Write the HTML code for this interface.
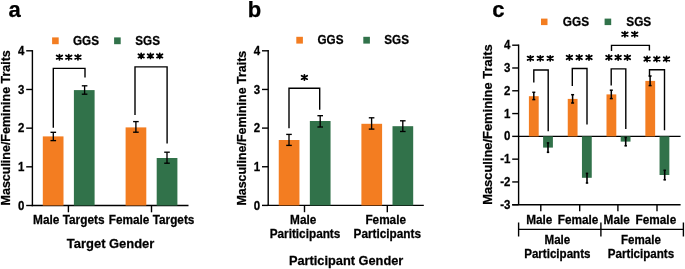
<!DOCTYPE html>
<html><head><meta charset="utf-8"><style>
html,body{margin:0;padding:0;background:#fff;width:685px;height:269px;overflow:hidden}
svg{display:block;will-change:transform}
text{font-family:"Liberation Sans",sans-serif;font-weight:bold;fill:#000;stroke:#000;stroke-width:0.25px}
</style></head><body>
<svg width="685" height="269" viewBox="0 0 685 269" shape-rendering="auto">
<rect width="685" height="269" fill="#fff"/>
<line x1="32.4" y1="50.099999999999994" x2="32.4" y2="206.2" stroke="#000" stroke-width="1.4"/>
<line x1="26.2" y1="205.5" x2="32.4" y2="205.5" stroke="#000" stroke-width="1.4"/>
<text x="0" y="0" font-size="11.5" text-anchor="end" transform="translate(24.30,209.60) scale(1,1.09)">0</text>
<line x1="26.2" y1="166.825" x2="32.4" y2="166.825" stroke="#000" stroke-width="1.4"/>
<text x="0" y="0" font-size="11.5" text-anchor="end" transform="translate(24.30,170.92) scale(1,1.09)">1</text>
<line x1="26.2" y1="128.15" x2="32.4" y2="128.15" stroke="#000" stroke-width="1.4"/>
<text x="0" y="0" font-size="11.5" text-anchor="end" transform="translate(24.30,132.25) scale(1,1.09)">2</text>
<line x1="26.2" y1="89.47500000000001" x2="32.4" y2="89.47500000000001" stroke="#000" stroke-width="1.4"/>
<text x="0" y="0" font-size="11.5" text-anchor="end" transform="translate(24.30,93.58) scale(1,1.09)">3</text>
<line x1="26.2" y1="50.80000000000001" x2="32.4" y2="50.80000000000001" stroke="#000" stroke-width="1.4"/>
<text x="0" y="0" font-size="11.5" text-anchor="end" transform="translate(24.30,54.90) scale(1,1.09)">4</text>
<line x1="31.7" y1="205.5" x2="188.5" y2="205.5" stroke="#000" stroke-width="1.4"/>
<line x1="68.4" y1="205.5" x2="68.4" y2="212.3" stroke="#000" stroke-width="1.4"/>
<line x1="151.5" y1="205.5" x2="151.5" y2="212.3" stroke="#000" stroke-width="1.4"/>
<rect x="42.80" y="136.40" width="20.70" height="69.10" fill="#F37D21"/>
<rect x="73.90" y="90.10" width="20.70" height="115.40" fill="#31724A"/>
<rect x="125.60" y="127.40" width="20.70" height="78.10" fill="#F37D21"/>
<rect x="156.70" y="158.00" width="20.70" height="47.50" fill="#31724A"/>
<line x1="53.3" y1="132.3" x2="53.3" y2="140.6" stroke="#000" stroke-width="1.35"/>
<line x1="50.5" y1="132.3" x2="56.099999999999994" y2="132.3" stroke="#000" stroke-width="1.35"/>
<line x1="50.5" y1="140.6" x2="56.099999999999994" y2="140.6" stroke="#000" stroke-width="1.35"/>
<line x1="84.6" y1="85.8" x2="84.6" y2="94.2" stroke="#000" stroke-width="1.35"/>
<line x1="81.8" y1="85.8" x2="87.39999999999999" y2="85.8" stroke="#000" stroke-width="1.35"/>
<line x1="81.8" y1="94.2" x2="87.39999999999999" y2="94.2" stroke="#000" stroke-width="1.35"/>
<line x1="135.9" y1="121.6" x2="135.9" y2="132.2" stroke="#000" stroke-width="1.35"/>
<line x1="133.1" y1="121.6" x2="138.70000000000002" y2="121.6" stroke="#000" stroke-width="1.35"/>
<line x1="133.1" y1="132.2" x2="138.70000000000002" y2="132.2" stroke="#000" stroke-width="1.35"/>
<line x1="167.0" y1="152.2" x2="167.0" y2="163.2" stroke="#000" stroke-width="1.35"/>
<line x1="164.2" y1="152.2" x2="169.8" y2="152.2" stroke="#000" stroke-width="1.35"/>
<line x1="164.2" y1="163.2" x2="169.8" y2="163.2" stroke="#000" stroke-width="1.35"/>
<polyline points="53.3,127.8 53.3,68.4 85,68.4 85,77.6" fill="none" stroke="#000" stroke-width="1.4" stroke-linejoin="miter"/>
<polyline points="135,115 135,66.9 167.1,66.9 167.1,143.4" fill="none" stroke="#000" stroke-width="1.4" stroke-linejoin="miter"/>
<path d="M59.45,54.65L59.45,59.75M56.65,55.45L62.25,58.95M62.25,55.45L56.65,58.95" stroke="#000" stroke-width="1.75" stroke-linecap="round" fill="none"/>
<path d="M68.75,54.65L68.75,59.75M65.95,55.45L71.55,58.95M71.55,55.45L65.95,58.95" stroke="#000" stroke-width="1.75" stroke-linecap="round" fill="none"/>
<path d="M77.95,54.65L77.95,59.75M75.15,55.45L80.75,58.95M80.75,55.45L75.15,58.95" stroke="#000" stroke-width="1.75" stroke-linecap="round" fill="none"/>
<path d="M141.20,53.35L141.20,58.45M138.40,54.15L144.00,57.65M144.00,54.15L138.40,57.65" stroke="#000" stroke-width="1.75" stroke-linecap="round" fill="none"/>
<path d="M150.45,53.35L150.45,58.45M147.65,54.15L153.25,57.65M153.25,54.15L147.65,57.65" stroke="#000" stroke-width="1.75" stroke-linecap="round" fill="none"/>
<path d="M159.70,53.35L159.70,58.45M156.90,54.15L162.50,57.65M162.50,54.15L156.90,57.65" stroke="#000" stroke-width="1.75" stroke-linecap="round" fill="none"/>
<rect x="52.10" y="37.40" width="6.60" height="6.80" fill="#F37D21"/>
<text x="0" y="0" font-size="11.7" text-anchor="start" transform="translate(73,44.5) scale(1,1.07)">GGS</text>
<rect x="114.10" y="37.40" width="6.60" height="6.80" fill="#31724A"/>
<text x="0" y="0" font-size="11.7" text-anchor="start" transform="translate(135.3,44.5) scale(1,1.07)">SGS</text>
<text x="0" y="0" font-size="11.85" text-anchor="middle" transform="translate(68.8,223.9) scale(1,1.05)">Male Targets</text>
<text x="0" y="0" font-size="11.8" text-anchor="middle" transform="translate(151.6,223.9) scale(1,1.05)">Female Targets</text>
<text x="0" y="0" font-size="12.95" text-anchor="middle" transform="translate(110.6,247.6) scale(1,1.05)">Target Gender</text>
<text x="0" y="0" font-size="12.48" text-anchor="middle" transform="translate(10.1,127.8) rotate(-90)">Masculine/Feminine Traits</text>
<text x="8.6" y="16.5" font-size="22" text-anchor="start" >a</text>
<line x1="268.2" y1="50.099999999999994" x2="268.2" y2="206.1" stroke="#000" stroke-width="1.4"/>
<line x1="262.0" y1="205.4" x2="268.2" y2="205.4" stroke="#000" stroke-width="1.4"/>
<text x="0" y="0" font-size="11.5" text-anchor="end" transform="translate(260.10,209.50) scale(1,1.09)">0</text>
<line x1="262.0" y1="166.75" x2="268.2" y2="166.75" stroke="#000" stroke-width="1.4"/>
<text x="0" y="0" font-size="11.5" text-anchor="end" transform="translate(260.10,170.85) scale(1,1.09)">1</text>
<line x1="262.0" y1="128.1" x2="268.2" y2="128.1" stroke="#000" stroke-width="1.4"/>
<text x="0" y="0" font-size="11.5" text-anchor="end" transform="translate(260.10,132.20) scale(1,1.09)">2</text>
<line x1="262.0" y1="89.44999999999999" x2="268.2" y2="89.44999999999999" stroke="#000" stroke-width="1.4"/>
<text x="0" y="0" font-size="11.5" text-anchor="end" transform="translate(260.10,93.55) scale(1,1.09)">3</text>
<line x1="262.0" y1="50.79999999999998" x2="268.2" y2="50.79999999999998" stroke="#000" stroke-width="1.4"/>
<text x="0" y="0" font-size="11.5" text-anchor="end" transform="translate(260.10,54.90) scale(1,1.09)">4</text>
<line x1="267.5" y1="205.4" x2="423.8" y2="205.4" stroke="#000" stroke-width="1.4"/>
<line x1="304.5" y1="205.4" x2="304.5" y2="212.20000000000002" stroke="#000" stroke-width="1.4"/>
<line x1="387.3" y1="205.4" x2="387.3" y2="212.20000000000002" stroke="#000" stroke-width="1.4"/>
<rect x="278.75" y="140.00" width="20.70" height="65.40" fill="#F37D21"/>
<rect x="309.85" y="121.00" width="20.70" height="84.40" fill="#31724A"/>
<rect x="361.40" y="123.80" width="20.70" height="81.60" fill="#F37D21"/>
<rect x="392.50" y="126.20" width="20.70" height="79.20" fill="#31724A"/>
<line x1="289.0" y1="134.4" x2="289.0" y2="145.4" stroke="#000" stroke-width="1.35"/>
<line x1="286.2" y1="134.4" x2="291.8" y2="134.4" stroke="#000" stroke-width="1.35"/>
<line x1="286.2" y1="145.4" x2="291.8" y2="145.4" stroke="#000" stroke-width="1.35"/>
<line x1="320.2" y1="115.7" x2="320.2" y2="127.0" stroke="#000" stroke-width="1.35"/>
<line x1="317.4" y1="115.7" x2="323.0" y2="115.7" stroke="#000" stroke-width="1.35"/>
<line x1="317.4" y1="127.0" x2="323.0" y2="127.0" stroke="#000" stroke-width="1.35"/>
<line x1="371.6" y1="117.8" x2="371.6" y2="129.1" stroke="#000" stroke-width="1.35"/>
<line x1="368.8" y1="117.8" x2="374.40000000000003" y2="117.8" stroke="#000" stroke-width="1.35"/>
<line x1="368.8" y1="129.1" x2="374.40000000000003" y2="129.1" stroke="#000" stroke-width="1.35"/>
<line x1="402.8" y1="120.8" x2="402.8" y2="131.5" stroke="#000" stroke-width="1.35"/>
<line x1="400.0" y1="120.8" x2="405.6" y2="120.8" stroke="#000" stroke-width="1.35"/>
<line x1="400.0" y1="131.5" x2="405.6" y2="131.5" stroke="#000" stroke-width="1.35"/>
<polyline points="289,128.3 289,88.3 319.7,88.3 319.7,109.7" fill="none" stroke="#000" stroke-width="1.4" stroke-linejoin="miter"/>
<path d="M304.40,74.90L304.40,80.00M301.60,75.70L307.20,79.20M307.20,75.70L301.60,79.20" stroke="#000" stroke-width="1.75" stroke-linecap="round" fill="none"/>
<rect x="296.30" y="36.80" width="6.60" height="6.80" fill="#F37D21"/>
<text x="0" y="0" font-size="11.7" text-anchor="start" transform="translate(317.5,44.3) scale(1,1.07)">GGS</text>
<rect x="363.30" y="36.80" width="6.60" height="6.80" fill="#31724A"/>
<text x="0" y="0" font-size="11.7" text-anchor="start" transform="translate(384.3,44.3) scale(1,1.07)">SGS</text>
<text x="0" y="0" font-size="11.8" text-anchor="middle" transform="translate(303.2,224.1) scale(1,1.05)">Male</text>
<text x="0" y="0" font-size="11.8" text-anchor="middle" transform="translate(305,238.0) scale(1,1.05)">Pariticipants</text>
<text x="0" y="0" font-size="11.8" text-anchor="middle" transform="translate(385.7,224.1) scale(1,1.05)">Female</text>
<text x="0" y="0" font-size="11.8" text-anchor="middle" transform="translate(387.3,238.0) scale(1,1.05)">Participants</text>
<text x="0" y="0" font-size="12.8" text-anchor="middle" transform="translate(346.1,264.6) scale(1,1.05)">Participant Gender</text>
<text x="247.7" y="16.6" font-size="22" text-anchor="start" >b</text>
<text x="0" y="0" font-size="12.45" text-anchor="middle" transform="translate(246.3,128.2) rotate(-90)">Masculine/Feminine Traits</text>
<line x1="518.6" y1="44.5" x2="518.6" y2="204.73000000000002" stroke="#000" stroke-width="1.4"/>
<line x1="512.2" y1="45.2" x2="518.6" y2="45.2" stroke="#000" stroke-width="1.4"/>
<text x="0" y="0" font-size="11.5" text-anchor="end" transform="translate(510.50,49.30) scale(1,1.09)">4</text>
<line x1="512.2" y1="67.99000000000001" x2="518.6" y2="67.99000000000001" stroke="#000" stroke-width="1.4"/>
<text x="0" y="0" font-size="11.5" text-anchor="end" transform="translate(510.50,72.09) scale(1,1.09)">3</text>
<line x1="512.2" y1="90.78" x2="518.6" y2="90.78" stroke="#000" stroke-width="1.4"/>
<text x="0" y="0" font-size="11.5" text-anchor="end" transform="translate(510.50,94.88) scale(1,1.09)">2</text>
<line x1="512.2" y1="113.57000000000001" x2="518.6" y2="113.57000000000001" stroke="#000" stroke-width="1.4"/>
<text x="0" y="0" font-size="11.5" text-anchor="end" transform="translate(510.50,117.67) scale(1,1.09)">1</text>
<line x1="512.2" y1="136.36" x2="518.6" y2="136.36" stroke="#000" stroke-width="1.4"/>
<text x="0" y="0" font-size="11.5" text-anchor="end" transform="translate(510.50,140.46) scale(1,1.09)">0</text>
<line x1="512.2" y1="159.14999999999998" x2="518.6" y2="159.14999999999998" stroke="#000" stroke-width="1.4"/>
<text x="0" y="0" font-size="11.5" text-anchor="end" transform="translate(510.50,163.25) scale(1,1.09)">-1</text>
<line x1="512.2" y1="181.94" x2="518.6" y2="181.94" stroke="#000" stroke-width="1.4"/>
<text x="0" y="0" font-size="11.5" text-anchor="end" transform="translate(510.50,186.04) scale(1,1.09)">-2</text>
<line x1="512.2" y1="204.73000000000002" x2="518.6" y2="204.73000000000002" stroke="#000" stroke-width="1.4"/>
<text x="0" y="0" font-size="11.5" text-anchor="end" transform="translate(510.50,208.83) scale(1,1.09)">-3</text>
<line x1="518.6" y1="136.36" x2="680.6" y2="136.36" stroke="#000" stroke-width="1.4"/>
<line x1="512.2" y1="204.73000000000002" x2="680.6" y2="204.73000000000002" stroke="#000" stroke-width="1.4"/>
<line x1="540.8" y1="204.73000000000002" x2="540.8" y2="211.23000000000002" stroke="#000" stroke-width="1.4"/>
<line x1="579.7" y1="204.73000000000002" x2="579.7" y2="211.23000000000002" stroke="#000" stroke-width="1.4"/>
<line x1="617.9" y1="204.73000000000002" x2="617.9" y2="211.23000000000002" stroke="#000" stroke-width="1.4"/>
<line x1="657.0" y1="204.73000000000002" x2="657.0" y2="211.23000000000002" stroke="#000" stroke-width="1.4"/>
<rect x="528.90" y="96.20" width="9.80" height="40.16" fill="#F37D21"/>
<rect x="543.10" y="136.36" width="9.80" height="11.24" fill="#31724A"/>
<rect x="567.75" y="98.90" width="9.80" height="37.46" fill="#F37D21"/>
<rect x="581.95" y="136.36" width="9.80" height="41.44" fill="#31724A"/>
<rect x="606.50" y="94.40" width="9.80" height="41.96" fill="#F37D21"/>
<rect x="620.70" y="136.36" width="9.80" height="5.24" fill="#31724A"/>
<rect x="645.35" y="80.90" width="9.80" height="55.46" fill="#F37D21"/>
<rect x="659.55" y="136.36" width="9.80" height="38.64" fill="#31724A"/>
<line x1="533.8" y1="92.3" x2="533.8" y2="99.6" stroke="#000" stroke-width="1.5"/>
<line x1="532.3" y1="92.3" x2="535.3" y2="92.3" stroke="#000" stroke-width="1.5"/>
<line x1="532.3" y1="99.6" x2="535.3" y2="99.6" stroke="#000" stroke-width="1.5"/>
<line x1="548.0" y1="142.9" x2="548.0" y2="152.3" stroke="#000" stroke-width="1.6"/>
<line x1="546.8" y1="142.9" x2="549.2" y2="142.9" stroke="#000" stroke-width="1.6"/>
<line x1="546.8" y1="152.3" x2="549.2" y2="152.3" stroke="#000" stroke-width="1.6"/>
<line x1="572.6" y1="94.7" x2="572.6" y2="103.0" stroke="#000" stroke-width="1.5"/>
<line x1="571.1" y1="94.7" x2="574.1" y2="94.7" stroke="#000" stroke-width="1.5"/>
<line x1="571.1" y1="103.0" x2="574.1" y2="103.0" stroke="#000" stroke-width="1.5"/>
<line x1="587.0" y1="173.4" x2="587.0" y2="183.0" stroke="#000" stroke-width="1.6"/>
<line x1="585.8" y1="173.4" x2="588.2" y2="173.4" stroke="#000" stroke-width="1.6"/>
<line x1="585.8" y1="183.0" x2="588.2" y2="183.0" stroke="#000" stroke-width="1.6"/>
<line x1="611.3" y1="90.2" x2="611.3" y2="98.6" stroke="#000" stroke-width="1.5"/>
<line x1="609.8" y1="90.2" x2="612.8" y2="90.2" stroke="#000" stroke-width="1.5"/>
<line x1="609.8" y1="98.6" x2="612.8" y2="98.6" stroke="#000" stroke-width="1.5"/>
<line x1="625.7" y1="137.5" x2="625.7" y2="145.8" stroke="#000" stroke-width="1.6"/>
<line x1="624.5" y1="137.5" x2="626.9000000000001" y2="137.5" stroke="#000" stroke-width="1.6"/>
<line x1="624.5" y1="145.8" x2="626.9000000000001" y2="145.8" stroke="#000" stroke-width="1.6"/>
<line x1="650.1" y1="76.0" x2="650.1" y2="85.6" stroke="#000" stroke-width="1.5"/>
<line x1="648.6" y1="76.0" x2="651.6" y2="76.0" stroke="#000" stroke-width="1.5"/>
<line x1="648.6" y1="85.6" x2="651.6" y2="85.6" stroke="#000" stroke-width="1.5"/>
<line x1="664.7" y1="170.3" x2="664.7" y2="179.8" stroke="#000" stroke-width="1.6"/>
<line x1="663.5" y1="170.3" x2="665.9000000000001" y2="170.3" stroke="#000" stroke-width="1.6"/>
<line x1="663.5" y1="179.8" x2="665.9000000000001" y2="179.8" stroke="#000" stroke-width="1.6"/>
<polyline points="533.8,82.4 533.8,70.0 548.2,70.0 548.2,131.2" fill="none" stroke="#000" stroke-width="1.4" stroke-linejoin="miter"/>
<polyline points="572.3,86 572.3,68.5 587.0,68.5 587.0,124.5" fill="none" stroke="#000" stroke-width="1.4" stroke-linejoin="miter"/>
<polyline points="611.2,85.5 611.2,68.9 625.8,68.9 625.8,129.0" fill="none" stroke="#000" stroke-width="1.4" stroke-linejoin="miter"/>
<polyline points="649.5,76.7 649.5,69.8 664.5,69.8 664.5,130.3" fill="none" stroke="#000" stroke-width="1.4" stroke-linejoin="miter"/>
<polyline points="611.5,51 611.5,45.4 649.4,45.4 649.4,50.5" fill="none" stroke="#000" stroke-width="1.4" stroke-linejoin="miter"/>
<path d="M530.40,55.75L530.40,60.85M527.60,56.55L533.20,60.05M533.20,56.55L527.60,60.05" stroke="#000" stroke-width="1.75" stroke-linecap="round" fill="none"/>
<path d="M540.30,55.75L540.30,60.85M537.50,56.55L543.10,60.05M543.10,56.55L537.50,60.05" stroke="#000" stroke-width="1.75" stroke-linecap="round" fill="none"/>
<path d="M550.20,55.75L550.20,60.85M547.40,56.55L553.00,60.05M553.00,56.55L547.40,60.05" stroke="#000" stroke-width="1.75" stroke-linecap="round" fill="none"/>
<path d="M569.40,54.95L569.40,60.05M566.60,55.75L572.20,59.25M572.20,55.75L566.60,59.25" stroke="#000" stroke-width="1.75" stroke-linecap="round" fill="none"/>
<path d="M579.20,54.95L579.20,60.05M576.40,55.75L582.00,59.25M582.00,55.75L576.40,59.25" stroke="#000" stroke-width="1.75" stroke-linecap="round" fill="none"/>
<path d="M589.00,54.95L589.00,60.05M586.20,55.75L591.80,59.25M591.80,55.75L586.20,59.25" stroke="#000" stroke-width="1.75" stroke-linecap="round" fill="none"/>
<path d="M608.90,54.95L608.90,60.05M606.10,55.75L611.70,59.25M611.70,55.75L606.10,59.25" stroke="#000" stroke-width="1.75" stroke-linecap="round" fill="none"/>
<path d="M618.15,54.95L618.15,60.05M615.35,55.75L620.95,59.25M620.95,55.75L615.35,59.25" stroke="#000" stroke-width="1.75" stroke-linecap="round" fill="none"/>
<path d="M627.40,54.95L627.40,60.05M624.60,55.75L630.20,59.25M630.20,55.75L624.60,59.25" stroke="#000" stroke-width="1.75" stroke-linecap="round" fill="none"/>
<path d="M647.10,56.45L647.10,61.55M644.30,57.25L649.90,60.75M649.90,57.25L644.30,60.75" stroke="#000" stroke-width="1.75" stroke-linecap="round" fill="none"/>
<path d="M656.80,56.45L656.80,61.55M654.00,57.25L659.60,60.75M659.60,57.25L654.00,60.75" stroke="#000" stroke-width="1.75" stroke-linecap="round" fill="none"/>
<path d="M666.50,56.45L666.50,61.55M663.70,57.25L669.30,60.75M669.30,57.25L663.70,60.75" stroke="#000" stroke-width="1.75" stroke-linecap="round" fill="none"/>
<path d="M624.90,31.65L624.90,36.75M622.10,32.45L627.70,35.95M627.70,32.45L622.10,35.95" stroke="#000" stroke-width="1.75" stroke-linecap="round" fill="none"/>
<path d="M634.70,31.65L634.70,36.75M631.90,32.45L637.50,35.95M637.50,32.45L631.90,35.95" stroke="#000" stroke-width="1.75" stroke-linecap="round" fill="none"/>
<rect x="541.00" y="18.60" width="6.50" height="6.50" fill="#F37D21"/>
<text x="0" y="0" font-size="11.8" text-anchor="start" transform="translate(562.8,25.8) scale(1,1.07)">GGS</text>
<rect x="604.60" y="18.60" width="6.60" height="6.50" fill="#31724A"/>
<text x="0" y="0" font-size="11.8" text-anchor="start" transform="translate(626.3,25.8) scale(1,1.07)">SGS</text>
<text x="0" y="0" font-size="11.8" text-anchor="middle" transform="translate(539.3,223.8) scale(1,1.05)">Male</text>
<text x="0" y="0" font-size="11.8" text-anchor="middle" transform="translate(578,223.8) scale(1,1.05)">Female</text>
<text x="0" y="0" font-size="11.8" text-anchor="middle" transform="translate(616.7,223.8) scale(1,1.05)">Male</text>
<text x="0" y="0" font-size="11.8" text-anchor="middle" transform="translate(655.9,223.8) scale(1,1.05)">Female</text>
<line x1="518.6" y1="229.4" x2="683.4" y2="229.4" stroke="#000" stroke-width="1.4"/>
<line x1="518.6" y1="222.5" x2="518.6" y2="236.5" stroke="#000" stroke-width="1.4"/>
<line x1="600.9" y1="222.5" x2="600.9" y2="236.5" stroke="#000" stroke-width="1.4"/>
<line x1="683.4" y1="222.5" x2="683.4" y2="236.5" stroke="#000" stroke-width="1.4"/>
<text x="0" y="0" font-size="11.6" text-anchor="middle" transform="translate(557.4,243.7) scale(1,1.05)">Male</text>
<text x="0" y="0" font-size="11.6" text-anchor="middle" transform="translate(557.3,258.3) scale(1,1.05)">Participants</text>
<text x="0" y="0" font-size="11.6" text-anchor="middle" transform="translate(641,243.7) scale(1,1.05)">Female</text>
<text x="0" y="0" font-size="11.6" text-anchor="middle" transform="translate(641,258.3) scale(1,1.05)">Participants</text>
<text x="0" y="0" font-size="12.9" text-anchor="middle" transform="translate(491.8,124.6) rotate(-90)">Masculine/Feminine Traits</text>
<text x="492.2" y="16.6" font-size="22" text-anchor="start" >c</text>
</svg>
</body></html>
